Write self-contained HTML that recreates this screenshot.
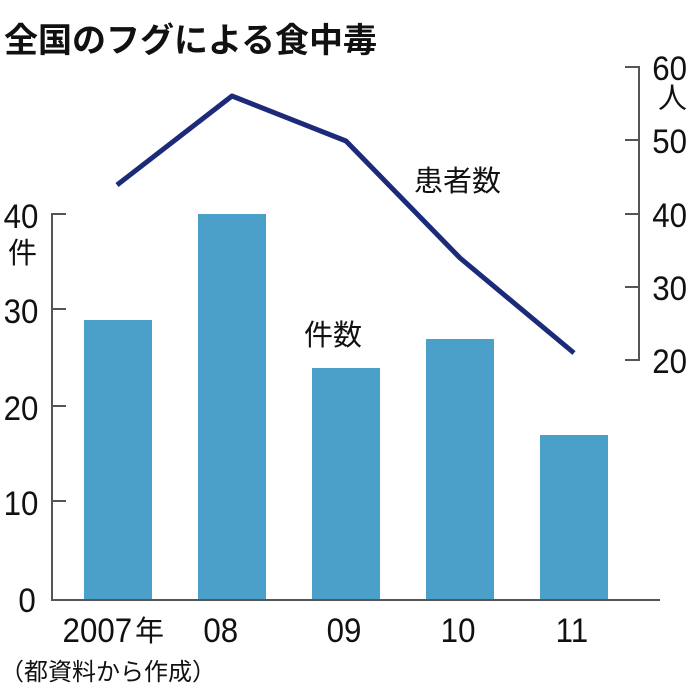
<!DOCTYPE html><html><head><meta charset="utf-8"><style>body{margin:0;background:#fff}svg{display:block}text{font-family:"Liberation Sans","Noto Sans CJK JP",sans-serif;fill:#111}</style></head><body>
<svg width="696" height="696" viewBox="0 0 696 696">
<text x="4" y="52" font-size="34" font-weight="bold">全国のフグによる食中毒</text>
<g fill="#4aa0c9">
<rect x="84" y="320" width="68" height="280"/>
<rect x="198" y="214" width="68" height="386"/>
<rect x="312" y="368" width="68" height="232"/>
<rect x="426" y="339" width="68" height="261"/>
<rect x="540" y="435" width="68" height="165"/>
</g>
<g stroke="#555" stroke-width="2" fill="none">
<path d="M66 214H52V600H660"/>
<path d="M52 309H66M52 406H66M52 501H66"/>
<path d="M625 67H639V360H625M625 140H639M625 214H639M625 287H639"/>
</g>
<polyline points="117,185 232,96 346,141 460,258 574,353" fill="none" stroke="#1c2a7a" stroke-width="5" stroke-linejoin="round"/>
<g font-size="34" transform="scale(0.92,1)">
<text x="4" y="228">40</text><text x="4" y="323">30</text><text x="4" y="420">20</text><text x="4" y="515">10</text><text x="20" y="612">0</text>
<text x="709" y="80">60</text><text x="709" y="153">50</text><text x="709" y="227">40</text><text x="709" y="300">30</text><text x="709" y="373">20</text>
<text x="68" y="642">2007</text><text x="221" y="642">08</text><text x="355" y="642">09</text><text x="479" y="642">10</text><text x="604" y="642">11</text>
</g>
<g font-size="29">
<text x="8" y="263">件</text><text x="658" y="108">人</text><text x="135" y="641">年</text>
<text x="414" y="191">患者数</text><text x="304" y="345">件数</text>
</g>
<text x="0" y="680" font-size="24">（都資料から作成）</text>
</svg></body></html>
